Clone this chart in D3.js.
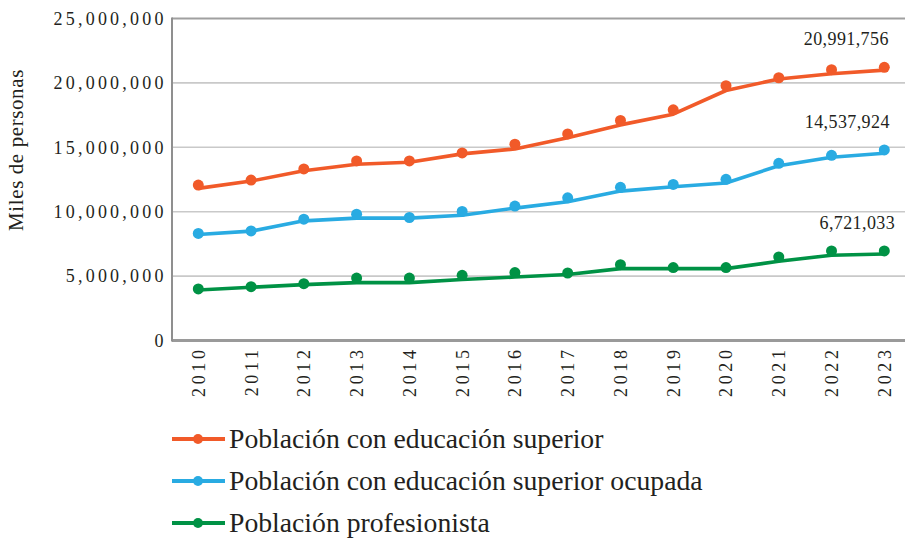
<!DOCTYPE html>
<html><head><meta charset="utf-8">
<script src="https://cdn.jsdelivr.net/npm/d3@7"></script>
<style>
html,body{margin:0;padding:0;background:#fff;}
svg{display:block;font-family:"Liberation Serif","Times New Roman",serif;}
svg text{font-family:"Liberation Serif","Times New Roman",serif;}
</style></head>
<body><svg id="chart" width="910" height="540"></svg>
<script>
const years = ["2010","2011","2012","2013","2014","2015","2016","2017","2018","2019","2020","2021","2022","2023"];
const yTicks = [0,5000000,10000000,15000000,20000000,25000000];
const seriesNames = ["Población con educación superior","Población con educación superior ocupada","Población profesionista"];
// marker values
const superiorDots = [12070000,12460000,13320000,13940000,13940000,14560000,15240000,16040000,17080000,17910000,19780000,20400000,21030000,21210000];
const ocupadaDots  = [8310000,8510000,9420000,9810000,9550000,10020000,10440000,11080000,11890000,12120000,12510000,13760000,14380000,14800000];
const profDots     = [4000000,4180000,4410000,4850000,4850000,5060000,5270000,5240000,5890000,5660000,5660000,6490000,6950000,6950000];
// line values
const superiorLine = [11810000,12380000,13180000,13680000,13840000,14490000,14870000,15750000,16740000,17570000,19410000,20300000,20710000,20991756];
const ocupadaLine  = [8230000,8490000,9290000,9500000,9500000,9730000,10280000,10770000,11600000,11940000,12230000,13570000,14230000,14537924];
const profLine     = [3920000,4130000,4340000,4490000,4490000,4730000,4930000,5120000,5580000,5580000,5580000,6150000,6620000,6721033];
const endLabels = ["20,991,756","14,537,924","6,721,033"];

const colors = ["#F15A29","#29ABE2","#009245"];
const labelDx = [-38,-37,-27];
const FONT = "Liberation Serif";

const svg = d3.select("#chart");
const plot = {left:172, right:905, top:18.5, bottom:340.5};
const x = d3.scalePoint().domain(years).range([198.3, 884.3]);
const y = d3.scaleLinear().domain([0,25000000]).range([plot.bottom, plot.top]);
const fmt = d3.format(",");

// grid
svg.append("g").selectAll("line").data(yTicks.filter(d=>d>0 && d<25000000)).join("line")
  .attr("x1",plot.left).attr("x2",plot.right)
  .attr("y1",d=>y(d)).attr("y2",d=>y(d))
  .attr("stroke","#c9c9c9").attr("stroke-width",1.6);
// top line
svg.append("line").attr("x1",plot.left).attr("x2",plot.right).attr("y1",y(25000000)).attr("y2",y(25000000))
  .attr("stroke","#a0a0a0").attr("stroke-width",2);
// bottom axis line
svg.append("line").attr("x1",plot.left).attr("x2",plot.right).attr("y1",y(0)).attr("y2",y(0))
  .attr("stroke","#9a9a9a").attr("stroke-width",3);
// left axis line
svg.append("line").attr("x1",plot.left).attr("x2",plot.left).attr("y1",y(25000000)-1).attr("y2",y(0)+1)
  .attr("stroke","#8f8f8f").attr("stroke-width",2);

// y axis
const yAxis = d3.axisLeft(y).tickValues(yTicks).tickFormat(d=>fmt(d)).tickSize(0).tickPadding(0);
const yg = svg.append("g").attr("transform",`translate(${plot.left-9},0)`).call(yAxis)
  .attr("font-family",FONT);
yg.select(".domain").remove();
yg.selectAll("text").attr("font-size",18).attr("fill","#231F20")
  .attr("font-family",FONT).attr("letter-spacing","3.2px").attr("dx","3.6px");

// x axis
const xAxis = d3.axisBottom(x).tickSize(0).tickPadding(0);
const xg = svg.append("g").attr("transform",`translate(0,${plot.bottom})`).call(xAxis)
  .attr("font-family",FONT);
xg.select(".domain").remove();
xg.selectAll("text").attr("font-size",18).attr("fill","#231F20").attr("font-family",FONT)
  .attr("letter-spacing","3.6px")
  .attr("transform","rotate(-90)").attr("text-anchor","end").attr("x",-6).attr("y",0).attr("dy","0.33em");

// y title
svg.append("text").attr("transform","translate(23,150) rotate(-90)").attr("text-anchor","middle")
  .attr("font-family",FONT).attr("font-size",21).attr("fill","#231F20").attr("letter-spacing","0.6px").text("Miles de personas");

const lines = [superiorLine, ocupadaLine, profLine];
const dots = [superiorDots, ocupadaDots, profDots];
const lineGen = d3.line().x((d,i)=>x(years[i])).y(d=>y(d));

lines.forEach((vals,k)=>{
  svg.append("path").datum(vals).attr("d",lineGen).attr("fill","none")
    .attr("stroke",colors[k]).attr("stroke-width",3.6).attr("stroke-linejoin","round");
  svg.append("g").selectAll("circle").data(dots[k]).join("circle")
    .attr("cx",(d,i)=>x(years[i])).attr("cy",d=>y(d)).attr("r",5.5).attr("fill",colors[k]);
  const last = dots[k][dots[k].length-1];
  svg.append("text").attr("x",x(years[years.length-1])+labelDx[k]).attr("y",y(last)-22)
    .attr("text-anchor","middle").attr("font-family",FONT).attr("font-size",18).attr("fill","#231F20").attr("letter-spacing","0.4px")
    .text(endLabels[k]);
});

// legend
const lg = svg.append("g");
seriesNames.forEach((name,k)=>{
  const cy = 439 + k*42;
  lg.append("line").attr("x1",172).attr("x2",225).attr("y1",cy).attr("y2",cy)
    .attr("stroke",colors[k]).attr("stroke-width",4);
  lg.append("circle").attr("cx",198).attr("cy",cy).attr("r",5).attr("fill",colors[k]);
  lg.append("text").attr("x",229).attr("y",cy+9).attr("font-family",FONT).attr("font-size",27.7).attr("fill","#231F20").text(name);
});
</script></body></html>
